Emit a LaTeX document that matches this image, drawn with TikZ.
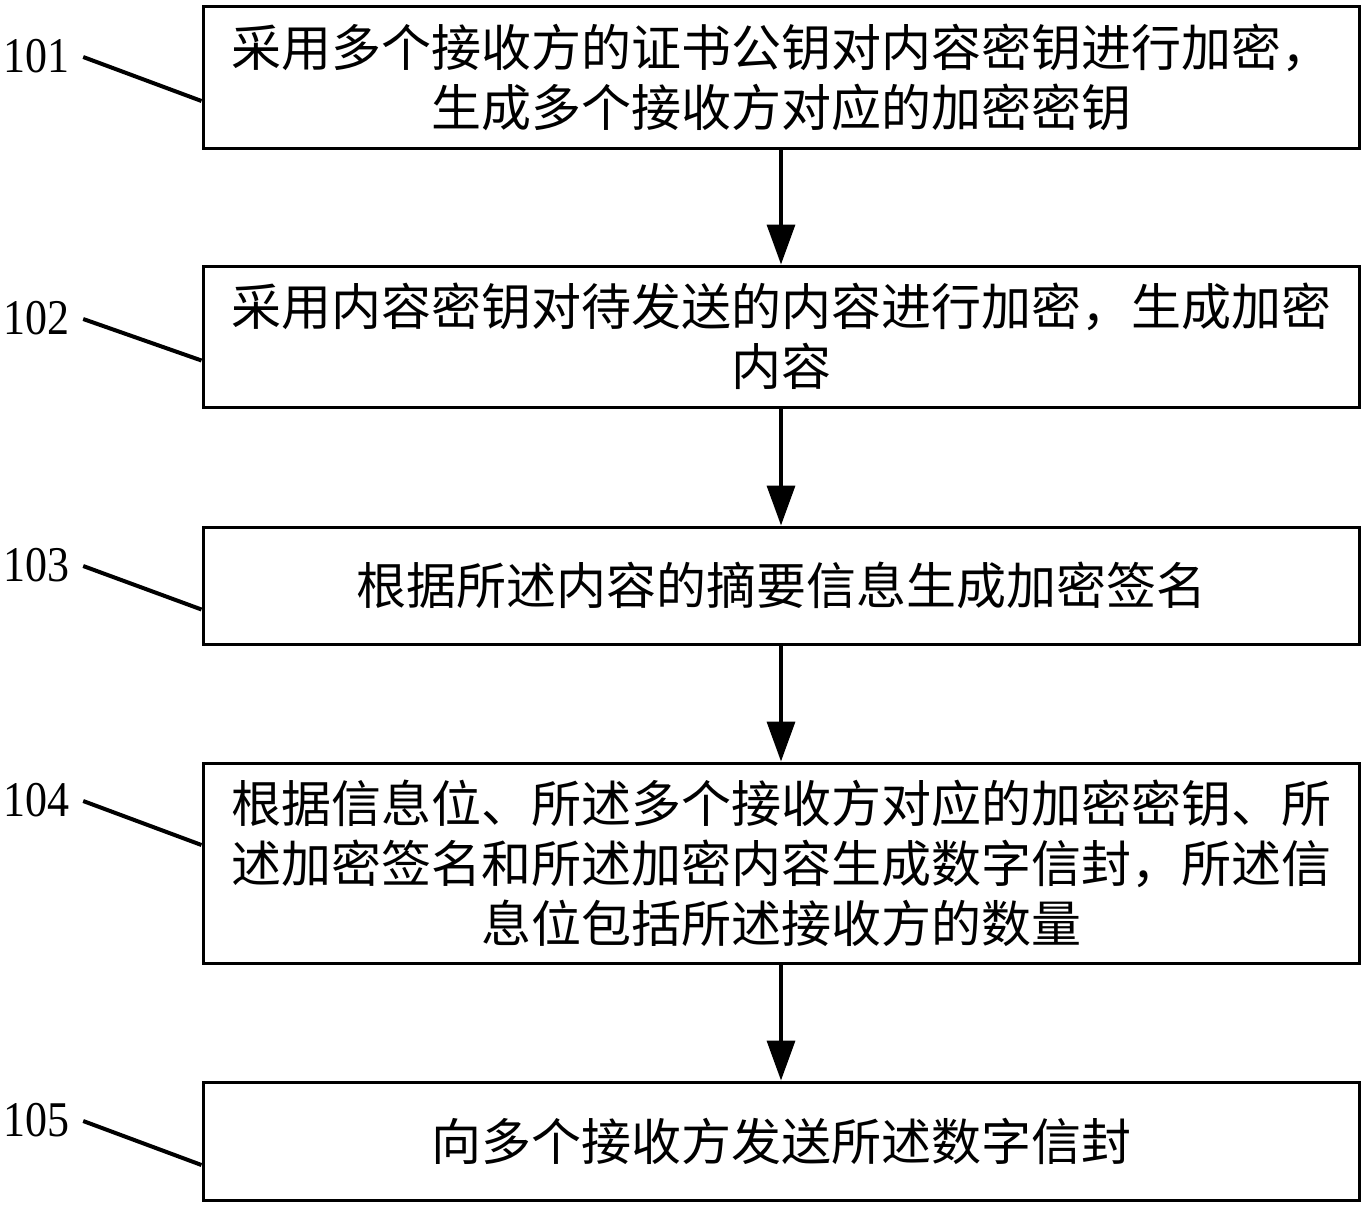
\documentclass[tikz,border=0pt]{standalone}
\usepackage{fontspec}
\setmainfont{Liberation Serif}
\newfontfamily\cjk{Noto Sans CJK SC}
\usetikzlibrary{arrows.meta}
\tikzset{
  stepbox/.style={draw=black, line width=3pt, minimum width=1156pt, inner sep=0pt,
    align=center, font=\cjk\fontsize{50}{60}\selectfont},
  flow/.style={line width=3.5pt, -{Triangle[length=40pt,width=28pt]}},
  lbl/.style={inner sep=0pt, font=\fontsize{50}{50}\selectfont},
  leader/.style={line width=4pt}
}
\begin{document}
\begin{tikzpicture}[x=1pt,y=-1pt]
\useasboundingbox (0,0) rectangle (1362,1205);
\node[stepbox, minimum height=142pt] (b1) at (781,77) {采用多个接收方的证书公钥对内容密钥进行加密，\\生成多个接收方对应的加密密钥};
\node[stepbox, minimum height=141pt] (b2) at (781,336.5) {采用内容密钥对待发送的内容进行加密，生成加密\\内容};
\node[stepbox, minimum height=117pt] (b3) at (781,585.5) {根据所述内容的摘要信息生成加密签名};
\node[stepbox, minimum height=200pt] (b4) at (781,863) {根据信息位、所述多个接收方对应的加密密钥、所\\述加密签名和所述加密内容生成数字信封，所述信\\息位包括所述接收方的数量};
\node[stepbox, minimum height=118pt] (b5) at (781,1141) {向多个接收方发送所述数字信封};
\draw[flow] (b1) -- (b2);
\draw[flow] (b2) -- (b3);
\draw[flow] (b3) -- (b4);
\draw[flow] (b4) -- (b5);
\node[lbl] (l1) at (37,56) {\scalebox{0.88}[1]{101}};
\node[lbl] (l2) at (37,318) {\scalebox{0.88}[1]{102}};
\node[lbl] (l3) at (37,565) {\scalebox{0.88}[1]{103}};
\node[lbl] (l4) at (37,800) {\scalebox{0.88}[1]{104}};
\node[lbl] (l5) at (37,1120) {\scalebox{0.88}[1]{105}};
\draw[leader] ([xshift=13pt,yshift=-1pt]l1.east) -- ([yshift=-24pt]b1.west);
\draw[leader] ([xshift=13pt,yshift=-1pt]l2.east) -- ([yshift=-24pt]b2.west);
\draw[leader] ([xshift=13pt,yshift=-1pt]l3.east) -- ([yshift=-24pt]b3.west);
\draw[leader] ([xshift=13pt,yshift=-1pt]l4.east) -- ([yshift=18pt]b4.west);
\draw[leader] ([xshift=13pt,yshift=-1pt]l5.east) -- ([yshift=-24pt]b5.west);
\end{tikzpicture}
\end{document}
